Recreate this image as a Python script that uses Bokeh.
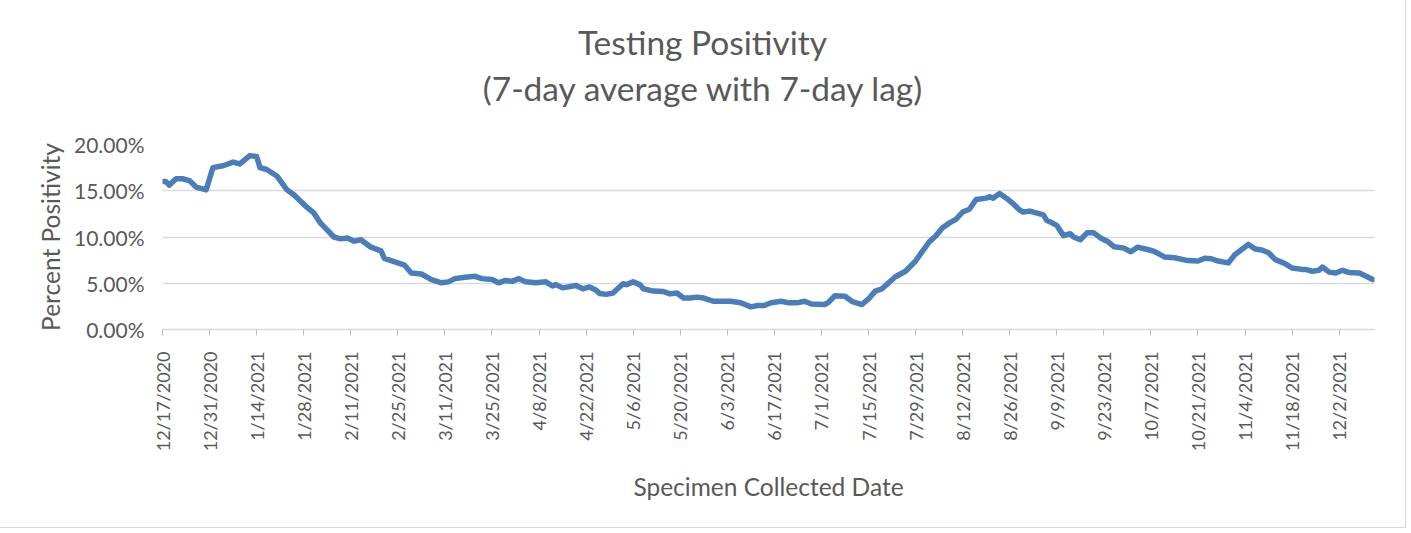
from bokeh.plotting import figure
from bokeh.models import Range1d, FixedTicker, PrintfTickFormatter, Div
from bokeh.layouts import column
from bokeh.embed import file_html
from bokeh.resources import INLINE

# day offsets from 12/17/2020 and 7-day average positivity (%)
days = [0, 1, 2, 4, 6, 8, 10, 13, 15, 18, 21, 23, 26, 28, 29, 31, 34, 37, 39, 43,
        45, 47, 51, 53, 55, 57, 59, 62, 65, 66, 70, 72, 74, 77, 80, 83, 85, 87, 90, 93,
        95, 98, 100, 102, 104, 106, 108, 111, 114, 116, 117, 119, 123, 125, 127, 129, 130, 132, 134, 137,
        138, 140, 142, 143, 146, 149, 151, 153, 155, 157, 159, 161, 164, 166, 169, 172, 175, 177, 179, 181,
        184, 186, 189, 191, 193, 197, 198, 200, 203, 205, 208, 210, 212, 214, 216, 218, 221, 224, 226, 228,
        230, 232, 234, 236, 238, 240, 242, 245, 246, 247, 249, 251, 253, 255, 256, 258, 262, 263, 265, 266,
        268, 270, 271, 273, 275, 277, 279, 281, 283, 286, 288, 290, 293, 295, 298, 301, 305, 308, 310, 312,
        314, 317, 319, 321, 323, 325, 327, 329, 331, 334, 336, 339, 340, 342, 344, 345, 347, 349, 351, 353,
        356, 358, 360]
positivity = [16.0, 16.0, 15.6, 16.3, 16.3, 16.1, 15.4, 15.1, 17.5, 17.7, 18.1, 17.9, 18.8, 18.7, 17.5, 17.3, 16.6, 15.1, 14.6, 13.2,
              12.6, 11.5, 10.0, 9.8, 9.9, 9.55, 9.7, 8.9, 8.5, 7.7, 7.2, 6.95, 6.1, 6.0, 5.4, 5.05, 5.15, 5.5, 5.65, 5.75,
              5.5, 5.4, 5.05, 5.3, 5.2, 5.5, 5.15, 5.05, 5.15, 4.7, 4.85, 4.5, 4.75, 4.4, 4.6, 4.25, 3.9, 3.8, 3.95, 4.95,
              4.85, 5.15, 4.85, 4.4, 4.15, 4.1, 3.85, 3.95, 3.4, 3.4, 3.5, 3.4, 3.05, 3.05, 3.05, 2.9, 2.45, 2.6, 2.6, 2.9,
              3.05, 2.9, 2.9, 3.05, 2.75, 2.7, 2.9, 3.65, 3.6, 3.05, 2.7, 3.3, 4.15, 4.4, 5.05, 5.7, 6.3, 7.4, 8.45, 9.45,
              10.1, 11.0, 11.5, 11.9, 12.7, 13.0, 14.05, 14.2, 14.35, 14.2, 14.7, 14.2, 13.6, 12.9, 12.7, 12.8, 12.4, 11.8, 11.45, 11.25,
              10.15, 10.35, 10.0, 9.7, 10.45, 10.45, 9.9, 9.55, 8.95, 8.8, 8.4, 8.9, 8.65, 8.45, 7.85, 7.75, 7.45, 7.4, 7.7, 7.65,
              7.4, 7.2, 8.1, 8.65, 9.2, 8.7, 8.6, 8.3, 7.55, 7.1, 6.65, 6.5, 6.5, 6.3, 6.4, 6.75, 6.2, 6.1, 6.4, 6.15,
              6.1, 5.75, 5.4]

tick_days = [0, 14, 28, 42, 56, 70, 84, 98, 112, 126, 140, 154, 168, 182, 196, 210, 224, 238, 252,
             266, 280, 294, 308, 322, 336, 350]
tick_labels = ["12/17/2020", "12/31/2020", "1/14/2021", "1/28/2021", "2/11/2021", "2/25/2021",
               "3/11/2021", "3/25/2021", "4/8/2021", "4/22/2021", "5/6/2021", "5/20/2021",
               "6/3/2021", "6/17/2021", "7/1/2021", "7/15/2021", "7/29/2021", "8/12/2021",
               "8/26/2021", "9/9/2021", "9/23/2021", "10/7/2021", "10/21/2021", "11/4/2021",
               "11/18/2021", "12/2/2021"]
y_ticks = [0, 5, 10, 15, 20]

FONT = "Lato"
TXT = "#595959"
W = 1395
TITLE_H = 110

title = Div(text="Testing Positivity<br>(7-day average with 7-day lag)", width=W, height=TITLE_H,
            styles={"text-align": "center", "font-family": FONT, "font-size": "33.5px",
                    "line-height": "46px", "color": TXT, "padding-top": "14px",
                    "box-sizing": "border-box", "background-color": "white"})

p = figure(width=W, height=517 - TITLE_H, x_range=Range1d(0, 360.5), y_range=Range1d(0, 20),
           output_backend="svg", toolbar_location=None,
           min_border_left=162, min_border_right=21, min_border_top=24, min_border_bottom=198)
p.outline_line_color = None
p.background_fill_color = "white"
p.border_fill_color = "white"

p.line(days, positivity, line_color="#4a7ebb", line_width=5.5, line_join="round", line_cap="round")

# x axis
xa = p.xaxis[0]
xa.ticker = FixedTicker(ticks=tick_days)
xa.major_label_overrides = {d: l for d, l in zip(tick_days, tick_labels)}
xa.major_label_orientation = 1.5707963
xa.minor_tick_line_color = None
xa.major_tick_in = 0
xa.major_tick_out = 6
xa.major_tick_line_color = "#bfbfbf"
xa.axis_line_color = "#d9d9d9"
xa.axis_line_width = 1.3
xa.major_label_standoff = 16
xa.major_label_text_font = FONT
xa.major_label_text_font_size = "18px"
xa.major_label_text_color = TXT
xa.axis_label = "Specimen Collected Date"
xa.axis_label_text_font = FONT
xa.axis_label_text_font_size = "24.5px"
xa.axis_label_text_font_style = "normal"
xa.axis_label_text_color = TXT
xa.axis_label_standoff = 18

# y axis
ya = p.yaxis[0]
ya.ticker = FixedTicker(ticks=y_ticks)
ya.formatter = PrintfTickFormatter(format="%.2f%%")
ya.axis_line_color = None
ya.major_tick_line_color = None
ya.minor_tick_line_color = None
ya.major_tick_in = 0
ya.major_tick_out = 0
ya.major_label_standoff = 18
ya.major_label_text_font = FONT
ya.major_label_text_font_size = "21px"
ya.major_label_text_color = TXT
ya.axis_label = "Percent Positivity"
ya.axis_label_text_font = FONT
ya.axis_label_text_font_size = "24.5px"
ya.axis_label_text_font_style = "normal"
ya.axis_label_text_color = TXT
ya.axis_label_standoff = 6

p.xgrid.grid_line_color = None
p.ygrid.grid_line_color = "#d9d9d9"
p.ygrid.grid_line_width = 1.3

layout = column(title, p, spacing=0, styles={"outline": "1px solid #d9d9d9"})

open("out.html", "w").write(file_html(layout, INLINE))
